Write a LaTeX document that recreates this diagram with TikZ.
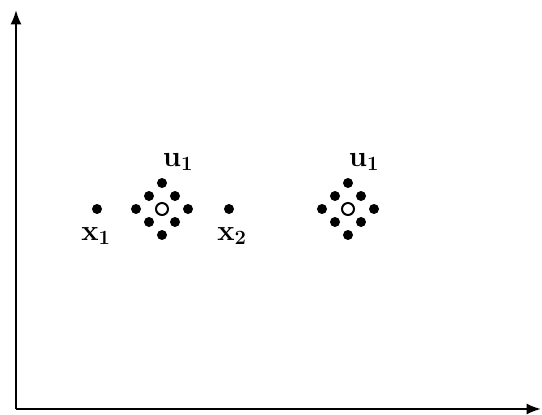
\documentclass[tikz,border=0pt]{standalone}
\usepackage{amsmath}
\usepackage{tikz}
\usetikzlibrary{arrows.meta, positioning}

\begin{document}
\begin{tikzpicture}[
    x=0.025cm, y=-0.025cm,
    dot/.style={circle, fill=black, inner sep=0pt, minimum size=0.25cm},
    hole/.style={circle, draw=black, line width=1.4pt, fill=white, inner sep=0pt, minimum size=0.3cm},
    lbl/.style={font=\fontsize{21}{25}\selectfont, inner sep=0pt},
    axis/.style={-{Latex[length=3.6mm, width=2.8mm]}, line width=1.6pt},
]
\useasboundingbox (0,0) rectangle (542,415);

% axes
\coordinate (origin) at (16,409);
\coordinate (ytop) at (16,10);
\coordinate (xend) at (541,409);
\draw[axis] (origin) -- (ytop);
\draw[axis] (origin) -- (xend);

% first cluster
\node[dot] (x1) at (97,209) {};
\node[dot] (x2) at (229,209) {};
\node[hole] (c1) at (162,209) {};
\foreach \dx/\dy [count=\i] in {26/0, 13/-13, 0/-26, -13/-13, -26/0, -13/13, 0/26, 13/13}
    \node[dot] (a\i) at ([shift={(\dx,\dy)}]c1) {};
\node[lbl] (lx1) at (96,236) {$\mathbf{x_1}$};
\node[lbl] (lx2) at (232,236) {$\mathbf{x_2}$};
\node[lbl] (lu1) at (178,162) {$\mathbf{u_1}$};

% second cluster
\node[hole] (c2) at (348,209) {};
\foreach \dx/\dy [count=\i] in {26/0, 13/-13, 0/-26, -13/-13, -26/0, -13/13, 0/26, 13/13}
    \node[dot] (b\i) at ([shift={(\dx,\dy)}]c2) {};
\node[lbl] (lu2) at (364,162) {$\mathbf{u_1}$};
\end{tikzpicture}
\end{document}
